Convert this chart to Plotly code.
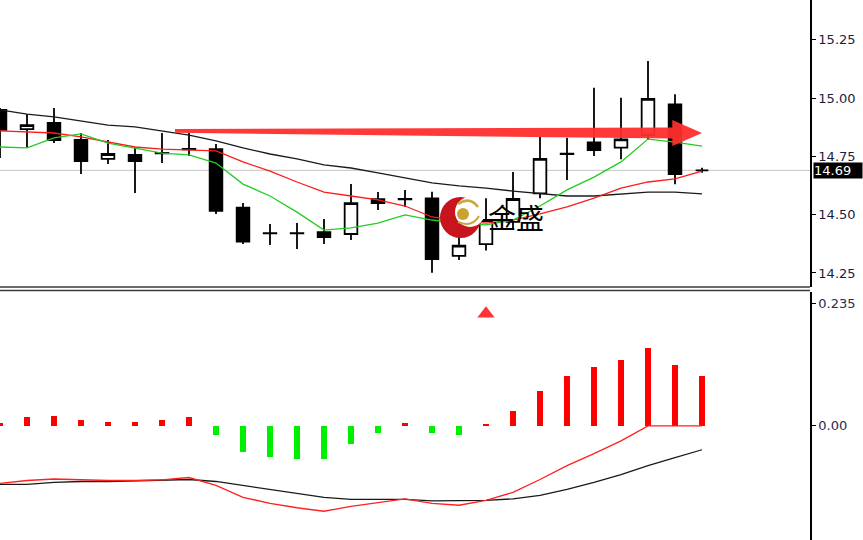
import plotly.graph_objects as go

# ---------------- data ----------------
bars_idx = list(range(27))

opens = [14.949, 14.867, 14.893, 14.820, 14.739, 14.756, 14.765, 14.782, 14.781, 14.530,
         14.421, 14.421, 14.425, 14.417, 14.566, 14.567, 14.570, 14.323, 14.374, 14.469,
         14.591, 14.760, 14.810, 14.787, 14.841, 14.973, 14.690]
highs = [14.957, 14.931, 14.957, 14.850, 14.820, 14.790, 14.850, 14.851, 14.803, 14.550,
         14.460, 14.464, 14.481, 14.631, 14.597, 14.606, 14.598, 14.409, 14.570, 14.683,
         14.834, 14.830, 15.044, 15.001, 15.159, 15.016, 14.701]
lows = [14.743, 14.786, 14.807, 14.674, 14.717, 14.593, 14.721, 14.751, 14.503, 14.374,
        14.370, 14.353, 14.374, 14.391, 14.520, 14.534, 14.251, 14.306, 14.346, 14.443,
        14.570, 14.649, 14.751, 14.737, 14.820, 14.630, 14.680]
closes = [14.863, 14.884, 14.820, 14.730, 14.760, 14.730, 14.763, 14.780, 14.516, 14.384,
          14.420, 14.420, 14.404, 14.549, 14.549, 14.566, 14.309, 14.367, 14.477, 14.567,
          14.739, 14.761, 14.777, 14.823, 14.996, 14.674, 14.690]

ma_fast = [14.790, 14.786, 14.829, 14.846, 14.807, 14.786, 14.764, 14.756, 14.721, 14.631,
           14.580, 14.511, 14.434, 14.443, 14.464, 14.499, 14.477, 14.464, 14.456, 14.477,
           14.537, 14.606, 14.661, 14.726, 14.824, 14.811, 14.794]
ma_mid = [14.859, 14.854, 14.850, 14.833, 14.811, 14.790, 14.781, 14.777, 14.773, 14.726,
          14.687, 14.640, 14.597, 14.580, 14.563, 14.537, 14.490, 14.473, 14.464, 14.477,
          14.503, 14.533, 14.571, 14.614, 14.640, 14.653, 14.687]
ma_slow = [14.949, 14.931, 14.919, 14.901, 14.884, 14.876, 14.859, 14.841, 14.816, 14.786,
           14.760, 14.739, 14.713, 14.700, 14.679, 14.657, 14.636, 14.623, 14.614, 14.601,
           14.589, 14.580, 14.580, 14.589, 14.597, 14.597, 14.589]

hist = [0.006, 0.017, 0.020, 0.011, 0.008, 0.007, 0.011, 0.017, -0.017, -0.051,
        -0.059, -0.063, -0.063, -0.035, -0.013, 0.005, -0.013, -0.017, 0.003, 0.029,
        0.068, 0.096, 0.113, 0.126, 0.151, 0.117, 0.096]
osc_red = [-0.1108, -0.1051, -0.1022, -0.1041, -0.1051, -0.1051, -0.1041, -0.0994, -0.1146, -0.1376,
           -0.1490, -0.1576, -0.1643, -0.1548, -0.1471, -0.1404, -0.1490, -0.1528, -0.1433, -0.1280,
           -0.1032, -0.0764, -0.0535, -0.0287, 0.0, 0.0, 0.0]
osc_black = [-0.1127, -0.1127, -0.1089, -0.1070, -0.1070, -0.1060, -0.1051, -0.1032, -0.1070, -0.1146,
             -0.1213, -0.1299, -0.1376, -0.1414, -0.1414, -0.1414, -0.1442, -0.1442, -0.1433, -0.1404,
             -0.1337, -0.1223, -0.1089, -0.0936, -0.0764, -0.0611, -0.0459]

signal_x = [18]
signal_y = [0.216]

price_ticks = [14.25, 14.50, 14.75, 15.00, 15.25]
price_tick_text = ["14.25", "14.50", "14.75", "15.00", "15.25"]
osc_ticks = [0.0, 0.235]
osc_tick_text = ["0.00", "0.235"]

# ---------------- figure ----------------
W, H = 863, 540
ML, MR = 0, 53
PW = W - ML - MR


def px(x):
    return x / PW


def py(y):
    return 1 - y / H


fig = go.Figure()

fig.add_trace(go.Candlestick(
    x=bars_idx, open=opens, high=highs, low=lows, close=closes,
    increasing=dict(line=dict(color="black", width=1.8), fillcolor="white"),
    decreasing=dict(line=dict(color="black", width=1.8), fillcolor="black"),
    whiskerwidth=0, showlegend=False, hoverinfo="skip",
    xaxis="x", yaxis="y"))

fig.add_trace(go.Scatter(x=bars_idx, y=ma_slow, mode="lines",
                         line=dict(color="#1a1a1a", width=1.3), showlegend=False,
                         xaxis="x", yaxis="y"))
fig.add_trace(go.Scatter(x=bars_idx, y=ma_mid, mode="lines",
                         line=dict(color="#ff1a1a", width=1.3), showlegend=False,
                         xaxis="x", yaxis="y"))
fig.add_trace(go.Scatter(x=bars_idx, y=ma_fast, mode="lines",
                         line=dict(color="#22cc22", width=1.3), showlegend=False,
                         xaxis="x", yaxis="y"))

hist_colors = ["#ff0000" if v >= 0 else "#00ee00" for v in hist]
fig.add_trace(go.Bar(x=bars_idx, y=hist, marker=dict(color=hist_colors, line=dict(width=0)),
                     width=0.19, showlegend=False, xaxis="x", yaxis="y2"))
fig.add_trace(go.Scatter(x=bars_idx, y=osc_black, mode="lines",
                         line=dict(color="#1a1a1a", width=1.3), showlegend=False,
                         xaxis="x", yaxis="y2"))
fig.add_trace(go.Scatter(x=bars_idx, y=osc_red, mode="lines",
                         line=dict(color="#ff2020", width=1.3), showlegend=False,
                         xaxis="x", yaxis="y2"))
fig.add_trace(go.Scatter(x=signal_x, y=signal_y, mode="markers",
                         marker=dict(symbol="triangle-up", size=15, color="#ff3333"),
                         showlegend=False, xaxis="x", yaxis="y2"))

last_price = closes[-1]

shapes = [
    # current price line
    dict(type="line", xref="paper", yref="y", x0=0, x1=1, y0=last_price, y1=last_price,
         line=dict(color="#c4c4c4", width=1), layer="below"),
    # pane separators
    dict(type="line", xref="paper", yref="paper", x0=0, x1=1, y0=py(287), y1=py(287),
         line=dict(color="#3a3a3a", width=1.5)),
    dict(type="line", xref="paper", yref="paper", x0=0, x1=1, y0=py(290.5), y1=py(290.5),
         line=dict(color="#3a3a3a", width=1.5)),
    # red arrow annotation
    dict(type="path", xref="x", yref="y",
         path="M 6.48,14.867 L 24.9,14.874 L 24.9,14.906 L 26.0,14.850 L 24.9,14.794 "
              "L 24.9,14.826 L 6.48,14.851 Z",
         fillcolor="rgba(255,45,45,0.95)", line=dict(width=0)),
    # logo: crescent
    dict(type="circle", xref="paper", yref="paper",
         x0=px(440), x1=px(481), y0=py(238), y1=py(197),
         fillcolor="#c8141c", line=dict(width=0)),
    dict(type="circle", xref="paper", yref="paper",
         x0=px(455), x1=px(485), y0=py(227), y1=py(197),
         fillcolor="white", line=dict(width=0)),
    dict(type="path", xref="paper", yref="paper",
         path="M {},{} Q {},{} {},{}".format(px(458), py(204), px(470), py(196), px(478), py(207)),
         line=dict(color="#c9a640", width=2.5)),
    dict(type="path", xref="paper", yref="paper",
         path="M {},{} Q {},{} {},{}".format(px(458), py(222), px(472), py(228), px(479), py(216)),
         line=dict(color="#c9a640", width=2)),
    dict(type="circle", xref="paper", yref="paper",
         x0=px(457), x1=px(469), y0=py(220), y1=py(208),
         fillcolor="#c9a232", line=dict(width=0)),
]

annotations = [
    dict(xref="paper", yref="y", x=1, y=last_price, xanchor="left", yanchor="middle",
         xshift=3, text="14.69", showarrow=False, bgcolor="black",
         font=dict(color="white", size=13, family="DejaVu Sans"),
         width=48, height=15, align="left", borderpad=0),
    dict(xref="paper", yref="paper", x=px(516), y=py(217), text="金盛", showarrow=False,
         font=dict(family="Noto Sans CJK SC", size=28, color="black"),
         xanchor="center", yanchor="middle"),
]

fig.update_layout(
    width=W, height=H,
    margin=dict(l=ML, r=MR, t=0, b=0, pad=0),
    paper_bgcolor="white", plot_bgcolor="white",
    boxgap=0.33,
    bargap=0,
    shapes=shapes, annotations=annotations,
    xaxis=dict(range=[0, 30], showticklabels=False, showgrid=False, zeroline=False,
               showline=False, ticks="", rangeslider=dict(visible=False), fixedrange=True),
    yaxis=dict(domain=[py(287), 1], range=[14.1899, 15.4201], side="right", anchor="x",
               tickvals=price_ticks, ticktext=price_tick_text, ticks="outside", ticklen=4,
               tickcolor="black", showline=True, linecolor="black", linewidth=1.5,
               showgrid=False, zeroline=False,
               tickfont=dict(family="DejaVu Sans", size=13, color="#1c1c3c")),
    yaxis2=dict(domain=[0, py(292)], range=[-0.2197, 0.2579], side="right", anchor="x",
                tickvals=osc_ticks, ticktext=osc_tick_text, ticks="outside", ticklen=4,
                tickcolor="black", showline=True, linecolor="black", linewidth=1.5,
                showgrid=False, zeroline=False,
                tickfont=dict(family="DejaVu Sans", size=13, color="#2c2c48")),
    font=dict(family="DejaVu Sans"),
)

fig.write_html("out.html", config={"displayModeBar": False},
               post_script="document.body.style.margin='0px';document.body.style.overflow='hidden';")
